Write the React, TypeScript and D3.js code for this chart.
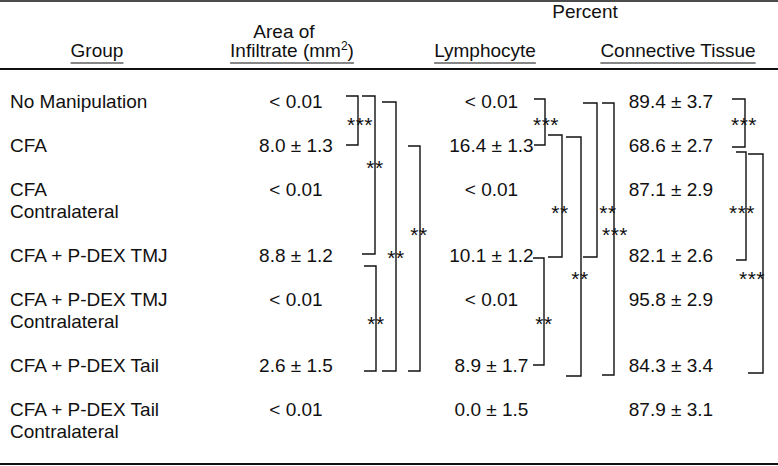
import React, { useEffect, useRef } from "react";
import * as d3 from "d3";

// ---------- data ----------
const groupLabels: string[][] = [
  ["No Manipulation"],
  ["CFA"],
  ["CFA", "Contralateral"],
  ["CFA + P-DEX TMJ"],
  ["CFA + P-DEX TMJ", "Contralateral"],
  ["CFA + P-DEX Tail"],
  ["CFA + P-DEX Tail", "Contralateral"],
];
const areaValues = ["< 0.01", "8.0 ± 1.3", "< 0.01", "8.8 ± 1.2", "< 0.01", "2.6 ± 1.5", "< 0.01"];
const lymphocyteValues = ["< 0.01", "16.4 ± 1.3", "< 0.01", "10.1 ± 1.2", "< 0.01", "8.9 ± 1.7", "0.0 ± 1.5"];
const connectiveValues = ["89.4 ± 3.7", "68.6 ± 2.7", "87.1 ± 2.9", "82.1 ± 2.6", "95.8 ± 2.9", "84.3 ± 3.4", "87.9 ± 3.1"];
const columnKeys = ["area", "lymphocyte", "connective"];

// significance brackets: column, from row, to row, label
const brackets = [
  { col: "area", from: 0, to: 1, stars: "***" },
  { col: "area", from: 0, to: 3, stars: "**" },
  { col: "area", from: 0, to: 5, stars: "**" },
  { col: "area", from: 3, to: 5, stars: "**" },
  { col: "area", from: 1, to: 5, stars: "**" },
  { col: "lymphocyte", from: 0, to: 1, stars: "***" },
  { col: "lymphocyte", from: 1, to: 3, stars: "**" },
  { col: "lymphocyte", from: 1, to: 5, stars: "**" },
  { col: "lymphocyte", from: 3, to: 5, stars: "**" },
  { col: "lymphocyte", from: 0, to: 3, stars: "**" },
  { col: "lymphocyte", from: 0, to: 5, stars: "***" },
  { col: "connective", from: 0, to: 1, stars: "***" },
  { col: "connective", from: 1, to: 3, stars: "***" },
  { col: "connective", from: 1, to: 5, stars: "***" },
];

// ---------- layout (positions/styles) ----------
const W = 778;
const H = 466;
const FONT = "'Liberation Sans', Arial, Helvetica, sans-serif";
const FS = 19;
const columnCenters = [296, 491.5, 671];
const groupX = 10;
// vertical x, arm length, top/bottom offsets from row centre, star centre
const bracketLayout = [
  { x: 358, arm: 12, dTop: -5.5, dBot: -0.5, sx: 360, sy: 120 },
  { x: 375, arm: 13, dTop: -5.5, dBot: -1.5, sx: 375, sy: 163 },
  { x: 396, arm: 14, dTop: 0.5, dBot: 5.5, sx: 396, sy: 253 },
  { x: 376, arm: 12, dTop: 10.5, dBot: 5.5, sx: 376, sy: 319 },
  { x: 420, arm: 12, dTop: 0.5, dBot: 5.5, sx: 419, sy: 230 },
  { x: 545, arm: 11, dTop: -2.5, dBot: -0.5, sx: 546, sy: 120 },
  { x: 562, arm: 14, dTop: -10.5, dBot: 1.5, sx: 560, sy: 208 },
  { x: 581, arm: 15, dTop: -8.5, dBot: 10.5, sx: 580, sy: 274 },
  { x: 544, arm: 11, dTop: 2.5, dBot: -0.5, sx: 544, sy: 319 },
  { x: 597, arm: 14, dTop: 1.5, dBot: 1.5, sx: 608, sy: 208 },
  { x: 614, arm: 12, dTop: 1.5, dBot: 9.5, sx: 615, sy: 230 },
  { x: 745, arm: 13, dTop: -2.5, dBot: 1.5, sx: 744, sy: 120 },
  { x: 746, arm: 10, dTop: 6.5, dBot: 4.5, sx: 742, sy: 208 },
  { x: 763, arm: 15, dTop: 8.5, dBot: 7.5, sx: 752, sy: 274 },
];

export default function App() {
  const ref = useRef<SVGSVGElement | null>(null);

  useEffect(() => {
    const svg = d3.select(ref.current);
    svg.selectAll("*").remove();

    // line-unit scale -> baseline y
    const lineY = d3.scaleLinear().domain([0, 1]).range([108, 130]);
    const rowStart: number[] = [];
    let acc = 0;
    groupLabels.forEach((g) => {
      rowStart.push(acc);
      acc += g.length + 1;
    });
    const baseline = (r: number) => lineY(rowStart[r]);
    const center = (r: number) => baseline(r) - 6.5;
    const colX = d3.scaleOrdinal<string, number>().domain(columnKeys).range(columnCenters);

    const g = svg.append("g").attr("font-family", FONT).attr("fill", "#111");

    // rules
    const rule = (y: number, w: number) =>
      g.append("line").attr("x1", 0).attr("x2", W).attr("y1", y).attr("y2", y)
        .attr("stroke", "#111").attr("stroke-width", w);
    rule(1, 1.6);
    rule(69, 1.8);
    rule(464, 1.8);

    // headers
    g.append("text").attr("x", 585).attr("y", 18).attr("text-anchor", "middle")
      .attr("font-size", FS).text("Percent");
    g.append("text").attr("x", 284).attr("y", 38).attr("text-anchor", "middle")
      .attr("font-size", FS).text("Area of");

    const underlined = (x: number, build: (t: any) => void) => {
      const t = g.append("text").attr("x", x).attr("y", 57).attr("text-anchor", "middle")
        .attr("font-size", FS);
      build(t);
      const bb = (t.node() as SVGTextElement).getBBox();
      g.append("line").attr("x1", bb.x).attr("x2", bb.x + bb.width)
        .attr("y1", 63).attr("y2", 63).attr("stroke", "#111").attr("stroke-width", 1.2);
    };
    underlined(97, (t) => t.text("Group"));
    underlined(292, (t) => {
      t.append("tspan").text("Infiltrate (mm");
      t.append("tspan").attr("font-size", 12).attr("dy", -7).text("2");
      t.append("tspan").attr("dy", 7).text(")");
    });
    underlined(485, (t) => t.text("Lymphocyte"));
    underlined(678, (t) => t.text("Connective Tissue"));

    // group labels
    groupLabels.forEach((lines, r) => {
      lines.forEach((ln, i) => {
        g.append("text").attr("x", groupX).attr("y", lineY(rowStart[r] + i))
          .attr("font-size", FS).text(ln);
      });
    });

    // values
    const cols: [string, string[]][] = [
      ["area", areaValues],
      ["lymphocyte", lymphocyteValues],
      ["connective", connectiveValues],
    ];
    cols.forEach(([key, vals]) => {
      g.selectAll(null).data(vals).enter().append("text")
        .attr("x", colX(key)).attr("y", (_d, r) => baseline(r))
        .attr("text-anchor", "middle").attr("font-size", FS).text((d) => d);
    });

    // brackets
    brackets.forEach((b, i) => {
      const L = bracketLayout[i];
      const y1 = center(b.from) + L.dTop;
      const y2 = center(b.to) + L.dBot;
      const p = d3.path();
      p.moveTo(L.x - L.arm, y1);
      p.lineTo(L.x, y1);
      p.lineTo(L.x, y2);
      p.lineTo(L.x - L.arm, y2);
      g.append("path").attr("d", p.toString()).attr("fill", "none")
        .attr("stroke", "#111").attr("stroke-width", 1.4);
      g.append("text").attr("x", L.sx).attr("y", L.sy + 12).attr("text-anchor", "middle")
        .attr("font-size", 21).attr("letter-spacing", 0.5).text(b.stars);
    });
  }, []);

  return (
    <svg
      ref={ref}
      width={W}
      height={H}
      style={{ position: "absolute", left: 0, top: 0, background: "#fff" }}
    />
  );
}
